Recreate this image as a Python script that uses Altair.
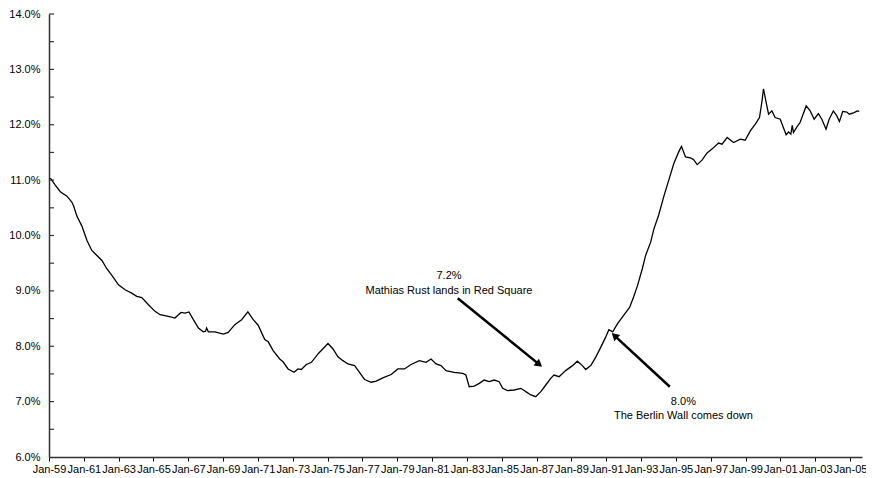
import math
import altair as alt
import pandas as pd

# ---- series (decimal year, rate in %) ----
years = [1959.02, 1959.12, 1959.36, 1959.65, 1960.03, 1960.32, 1960.43, 1960.60, 1960.89,
         1961.18, 1961.46, 1961.75, 1962.04, 1962.32, 1962.61, 1962.99, 1963.37, 1963.75,
         1964.04, 1964.33, 1964.71, 1965.09, 1965.38, 1965.86, 1966.23, 1966.58, 1966.81,
         1967.04, 1967.29, 1967.58, 1967.86, 1967.99, 1968.05, 1968.15, 1968.53, 1969.01,
         1969.29, 1969.67, 1970.06, 1970.42, 1970.73, 1971.01, 1971.39, 1971.59, 1971.87,
         1972.25, 1972.44, 1972.73, 1973.07, 1973.30, 1973.49, 1973.78, 1974.07, 1974.47,
         1975.02, 1975.31, 1975.59, 1975.88, 1976.17, 1976.55, 1976.83, 1977.12, 1977.50,
         1977.79, 1978.17, 1978.65, 1979.03, 1979.41, 1979.79, 1980.27, 1980.65, 1980.94,
         1981.23, 1981.51, 1981.80, 1982.27, 1982.76, 1982.94, 1983.13, 1983.42, 1983.71,
         1983.99, 1984.28, 1984.57, 1984.85, 1985.05, 1985.33, 1985.71, 1986.10, 1986.38,
         1986.67, 1986.95, 1987.24, 1987.53, 1987.81, 1988.00, 1988.29, 1988.67, 1989.06,
         1989.34, 1989.63, 1989.82, 1990.11, 1990.39, 1990.68, 1990.96, 1991.15, 1991.37,
         1991.65, 1992.05, 1992.34, 1992.58, 1992.80, 1993.07, 1993.26, 1993.55, 1993.73,
         1994.02, 1994.31, 1994.59, 1994.88, 1995.16, 1995.32, 1995.55, 1995.83, 1996.02,
         1996.22, 1996.50, 1996.79, 1997.07, 1997.45, 1997.65, 1997.94, 1998.31, 1998.70,
         1998.98, 1999.27, 1999.56, 1999.80, 1999.94, 2000.03, 2000.17, 2000.32, 2000.51,
         2000.70, 2000.99, 2001.33, 2001.47, 2001.60, 2001.68, 2001.75, 2001.95, 2002.13,
         2002.48, 2002.71, 2002.94, 2003.18, 2003.38, 2003.62, 2003.80, 2004.04, 2004.24,
         2004.39, 2004.58, 2004.81, 2004.96, 2005.23, 2005.42, 2005.53]
rates = [11.03, 11.02, 10.91, 10.79, 10.71, 10.60, 10.52, 10.35, 10.17,
         9.91, 9.73, 9.64, 9.55, 9.40, 9.28, 9.11, 9.02, 8.96,
         8.90, 8.88, 8.75, 8.63, 8.57, 8.54, 8.51, 8.61, 8.60,
         8.62, 8.48, 8.33, 8.26, 8.27, 8.33, 8.26, 8.26, 8.22,
         8.25, 8.39, 8.48, 8.62, 8.48, 8.38, 8.12, 8.08, 7.92,
         7.77, 7.72, 7.59, 7.53, 7.59, 7.58, 7.67, 7.71, 7.87,
         8.05, 7.95, 7.81, 7.74, 7.68, 7.65, 7.53, 7.40, 7.35,
         7.37, 7.43, 7.49, 7.59, 7.59, 7.67, 7.74, 7.71, 7.77,
         7.68, 7.65, 7.56, 7.53, 7.51, 7.48, 7.27, 7.28, 7.33,
         7.39, 7.36, 7.39, 7.36, 7.24, 7.20, 7.21, 7.24, 7.18,
         7.12, 7.09, 7.18, 7.30, 7.42, 7.48, 7.45, 7.56, 7.65,
         7.73, 7.65, 7.58, 7.65, 7.80, 7.98, 8.16, 8.30, 8.26,
         8.41, 8.58, 8.70, 8.90, 9.10, 9.40, 9.64, 9.88, 10.11,
         10.38, 10.71, 11.00, 11.30, 11.51, 11.61, 11.42, 11.40, 11.37,
         11.28, 11.36, 11.49, 11.56, 11.67, 11.65, 11.77, 11.68, 11.74,
         11.72, 11.89, 12.01, 12.13, 12.42, 12.65, 12.42, 12.19, 12.25,
         12.13, 12.10, 11.82, 11.87, 11.83, 11.99, 11.86, 11.96, 12.04,
         12.34, 12.25, 12.10, 12.20, 12.10, 11.92, 12.10, 12.25, 12.16,
         12.06, 12.24, 12.23, 12.19, 12.22, 12.25, 12.24]

# ---- axes ----
x_tick_years = list(range(1959, 2006, 2))
y_label_values = [6, 7, 8, 9, 10, 11, 12, 13, 14]
y_minor_ticks = [6.5, 7.0, 7.5, 8.0, 8.5, 9.0, 9.5, 10.0, 10.5, 11.0, 11.5,
                 12.0, 12.5, 13.0, 13.5, 14.0]
x_domain = [1959.0, 2005.686]
y_domain = [6.0, 14.0]

# ---- annotations ----
ann_x = [1981.97, 1981.97, 1995.43, 1995.43]
ann_y = [9.271, 9.0, 7.0, 6.747]
ann_text = ["7.2%", "Mathias Rust lands in Red Square", "8.0%", "The Berlin Wall comes down"]

arrow_tail_x = [1982.47, 1994.65]
arrow_tail_y = [8.868, 7.268]
arrow_tip_x = [1987.34, 1991.29]
arrow_tip_y = [7.623, 8.245]

W, H = 813, 443
PX_PER_YEAR = W / (x_domain[1] - x_domain[0])
PX_PER_PCT = H / (y_domain[1] - y_domain[0])
HEAD_SIZE = 75
head_r = math.sqrt(HEAD_SIZE) / 2

arrows = []
for tx, ty, hx, hy in zip(arrow_tail_x, arrow_tail_y, arrow_tip_x, arrow_tip_y):
    dx = (hx - tx) * PX_PER_YEAR
    dy = -(hy - ty) * PX_PER_PCT  # screen y grows downward
    L = math.hypot(dx, dy)
    ux, uy = dx / L, dy / L
    cx = hx - head_r * ux / PX_PER_YEAR
    cy = hy + head_r * uy / PX_PER_PCT
    ang = math.degrees(math.atan2(ux, -uy)) % 360
    arrows.append({"x": tx, "y": ty, "x2": cx, "y2": cy, "angle": ang})

series = pd.DataFrame({"year": years, "rate": rates})
ticks_df = pd.DataFrame({"v": y_minor_ticks})
ann_df = pd.DataFrame({"x": ann_x, "y": ann_y, "t": ann_text})
arrow_df = pd.DataFrame(arrows)

FONT = "Liberation Sans"
xscale = alt.Scale(domain=x_domain, nice=False, zero=False)
yscale = alt.Scale(domain=y_domain, nice=False, zero=False)

xaxis = alt.Axis(values=x_tick_years,
                 labelExpr="'Jan-' + substring(toString(datum.value), 2, 4)",
                 title=None, grid=False, tickSize=4, tickColor="#000",
                 domainColor="#333", domainWidth=1.5, labelFontSize=11,
                 labelFont=FONT, labelColor="#000", labelPadding=2,
                 labelOverlap=False, labelFlush=False)
yaxis = alt.Axis(values=y_label_values,
                 labelExpr="format(datum.value, '.1f') + '%'",
                 title=None, grid=False, ticks=False, domainColor="#333",
                 domainWidth=1.5, labelFontSize=11, labelFont=FONT,
                 labelColor="#000", labelPadding=9, labelOverlap=False)

line = alt.Chart(series).mark_line(color="#000", strokeWidth=1.3).encode(
    x=alt.X("year:Q", scale=xscale, axis=xaxis),
    y=alt.Y("rate:Q", scale=yscale, axis=yaxis),
)

yticks = alt.Chart(ticks_df).mark_rule(color="#333", strokeWidth=1.2).encode(
    y=alt.Y("v:Q", scale=yscale, axis=yaxis),
    x=alt.value(0),
    x2=alt.value(5),
)

texts = alt.Chart(ann_df).mark_text(fontSize=11, font=FONT, color="#000",
                                    align="center", baseline="middle").encode(
    x=alt.X("x:Q", scale=xscale, axis=xaxis),
    y=alt.Y("y:Q", scale=yscale, axis=yaxis),
    text="t:N",
)

shafts = alt.Chart(arrow_df).mark_rule(color="#000", strokeWidth=2.5).encode(
    x=alt.X("x:Q", scale=xscale, axis=xaxis),
    y=alt.Y("y:Q", scale=yscale, axis=yaxis),
    x2="x2:Q",
    y2="y2:Q",
)

heads = alt.Chart(arrow_df).mark_point(shape="triangle-up", filled=True,
                                       color="#000", opacity=1,
                                       size=HEAD_SIZE).encode(
    x=alt.X("x2:Q", scale=xscale, axis=xaxis),
    y=alt.Y("y2:Q", scale=yscale, axis=yaxis),
    angle=alt.Angle("angle:Q", scale=None),
)

chart = alt.layer(line, yticks, shafts, heads, texts).properties(
    width=W, height=H,
    autosize=alt.AutoSizeParams(type="none"),
    padding={"left": 41, "top": 6, "right": 4, "bottom": 21},
).configure_view(stroke=None).configure_axis(labelOverlap=False)

chart.save("out.html", embed_options={"renderer": "svg", "actions": False})
